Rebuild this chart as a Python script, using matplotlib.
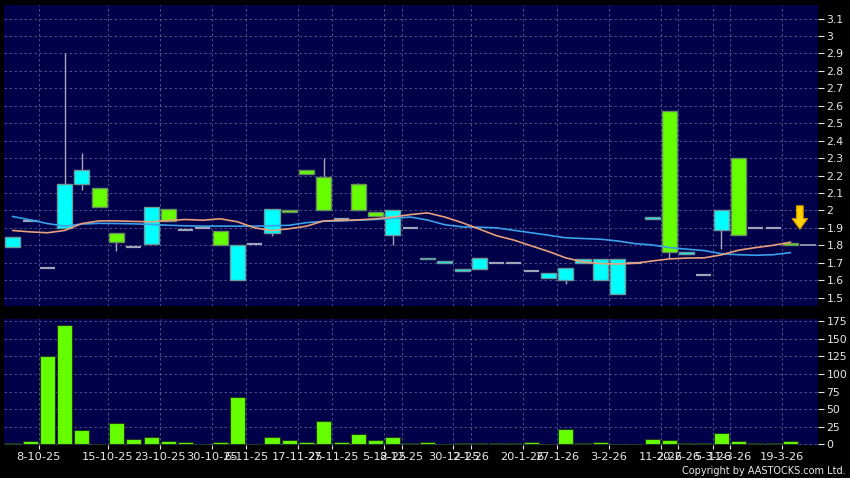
import numpy as np
import matplotlib
matplotlib.use('Agg')
import matplotlib.pyplot as plt

# daily candles (cyan = close above open, green = close below open)
opens = [1.79, 1.94, 1.67, 1.90, 2.15, 2.13, 1.87, 1.79, 1.81, 2.01,
         1.89, 1.90, 1.88, 1.60, 1.81, 1.87, 2.00, 2.23, 2.19, 1.95,
         2.15, 1.99, 1.86, 1.90, 1.72, 1.70, 1.655, 1.665, 1.70, 1.70,
         1.65, 1.615, 1.60, 1.70, 1.60, 1.52, 1.70, 1.95, 2.57, 1.75,
         1.63, 1.89, 2.30, 1.90, 1.90, 1.812]
highs = [1.85, 1.94, 1.67, 2.90, 2.33, 2.13, 1.87, 1.79, 2.02, 2.01,
         1.89, 1.90, 1.88, 1.80, 1.81, 2.01, 2.00, 2.23, 2.30, 1.95,
         2.16, 1.99, 2.00, 1.90, 1.73, 1.71, 1.665, 1.73, 1.70, 1.70,
         1.65, 1.64, 1.67, 1.72, 1.72, 1.72, 1.70, 1.96, 2.57, 1.76,
         1.63, 2.00, 2.30, 1.90, 1.90, 1.812]
lows = [1.79, 1.94, 1.67, 1.90, 2.12, 2.02, 1.77, 1.79, 1.81, 1.94,
        1.89, 1.90, 1.80, 1.60, 1.81, 1.855, 1.99, 2.21, 2.00, 1.95,
        2.00, 1.97, 1.80, 1.90, 1.72, 1.70, 1.655, 1.665, 1.70, 1.70,
        1.65, 1.615, 1.58, 1.70, 1.60, 1.52, 1.70, 1.95, 1.73, 1.75,
        1.63, 1.78, 1.86, 1.90, 1.90, 1.80]
closes = [1.85, 1.94, 1.67, 2.15, 2.23, 2.02, 1.82, 1.79, 2.02, 1.94,
          1.89, 1.90, 1.80, 1.80, 1.81, 2.01, 1.99, 2.21, 2.00, 1.95,
          2.00, 1.97, 2.00, 1.90, 1.73, 1.71, 1.665, 1.73, 1.70, 1.70,
          1.65, 1.64, 1.67, 1.72, 1.72, 1.72, 1.70, 1.96, 1.76, 1.76,
          1.63, 2.00, 1.86, 1.90, 1.90, 1.80]
volumes = [2, 5, 125, 169, 20, 0.5, 30, 8, 10, 5,
           4, 0.5, 4, 68, 0.8, 10, 6, 4, 33, 3,
           15, 6, 10, 2, 3.5, 0.5, 2, 2, 2, 2,
           4, 0.5, 22, 2, 4, 1, 1, 8, 6, 2,
           2, 16, 5, 2, 2, 5]
ma_short = [1.885, 1.877, 1.872, 1.885, 1.925, 1.94, 1.94, 1.937, 1.935, 1.942,
            1.948, 1.944, 1.952, 1.935, 1.90, 1.885, 1.895, 1.91, 1.94, 1.943,
            1.946, 1.952, 1.962, 1.976, 1.986, 1.962, 1.93, 1.893, 1.855, 1.83,
            1.797, 1.765, 1.728, 1.705, 1.695, 1.693, 1.697, 1.71, 1.722, 1.727,
            1.728, 1.745, 1.772, 1.787, 1.80, 1.818]
ma_long = [1.965, 1.946, 1.925, 1.91, 1.922, 1.926, 1.925, 1.923, 1.92, 1.915,
           1.912, 1.91, 1.91, 1.91, 1.91, 1.912, 1.915, 1.93, 1.938, 1.94,
           1.944, 1.948, 1.955, 1.962, 1.945, 1.918, 1.906, 1.904, 1.90, 1.886,
           1.872, 1.858, 1.843, 1.839, 1.835, 1.825, 1.81, 1.802, 1.787, 1.778,
           1.77, 1.752, 1.746, 1.743, 1.746, 1.758]
label_idx = [2, 6, 9, 12, 14, 17, 19, 22, 23, 26, 27, 30, 32, 35, 38, 39, 41, 42, 45]
date_labels = ['8-10-25', '15-10-25', '23-10-25', '30-10-25', '6-11-25', '17-11-25',
               '27-11-25', '5-12-25', '8-12-25', '30-12-25', '2-1-26', '20-1-26',
               '27-1-26', '3-2-26', '11-2-26', '20-2-26', '5-3-26', '11-3-26', '19-3-26']

navy = '#00004a'
grid_c = '#5c5c90'
up_c = '#00ffff'
down_c = '#66ff00'
txt_c = '#e8e8e8'
n = len(closes)
x = np.arange(n)
w = 0.87

fig = plt.figure(figsize=(8.5, 4.78), dpi=100, facecolor='black')
ax = fig.add_axes([4 / 850, 1 - 306 / 478, 814 / 850, 301 / 478], facecolor=navy)
axv = fig.add_axes([4 / 850, 1 - 445 / 478, 814 / 850, 126 / 478], facecolor=navy)

for a in (ax, axv):
  for s in a.spines.values():
    s.set_visible(False)
  a.set_xlim(-0.51, 46.6)
  for k in label_idx:
    a.axvline(k - 0.5, color=grid_c, lw=0.6, ls=(0, (3, 3)), zorder=0)
  a.yaxis.tick_right()
  a.tick_params(axis='y', colors=txt_c, labelsize=7.8, length=4, pad=2, width=0.8)
  a.grid(axis='y', color=grid_c, lw=0.6, ls=(0, (3, 3)), zorder=0)

# price panel
ax.vlines(x, lows, highs, color='#a8a8b8', lw=1, zorder=2)
for i in range(n):
  o, c = opens[i], closes[i]
  if abs(c - o) < 1e-9:
    ax.hlines(o, i - w / 2, i + w / 2, color='#a0a4b8', lw=1.6, zorder=3)
  else:
    col = up_c if c > o else down_c
    edge = '#6a9a9a' if c > o else '#6a8a60'
    ax.bar(i, abs(c - o), bottom=min(o, c), width=w, color=col,
           edgecolor=edge, linewidth=1, zorder=3)
ax.plot(x, ma_long, color='#3aa0e8', lw=1.2, zorder=4)
ax.plot(x, ma_short, color='#e8a07a', lw=1.2, zorder=4)
# last price marker and arrow
ax.hlines(closes[-1], n - 0.43, n + 0.5, color='#a0a4b8', lw=1.2, zorder=3)
tip = highs[-1] + 0.08
ax.annotate('', xy=(n - 0.45, tip), xytext=(n - 0.45, tip + 0.135),
            arrowprops=dict(arrowstyle='simple,head_length=0.55,head_width=0.8,tail_width=0.35',
                            mutation_scale=14, fc='#ffd200', ec='#d08a00', lw=0.8,
                            shrinkA=0, shrinkB=0), zorder=5)
ax.set_ylim(1.452, 3.178)
ax.set_yticks(np.round(np.arange(1.5, 3.15, 0.1), 1))
ax.set_yticklabels(['%g' % v for v in np.round(np.arange(1.5, 3.15, 0.1), 1)])
ax.set_xticks([])

# volume panel
axv.bar(x, volumes, width=w, color=down_c, edgecolor='#1e3a1e', linewidth=0.8, zorder=3)
axv.set_ylim(-0.8, 178)
axv.set_yticks(np.arange(0, 176, 25))
axv.set_xticks([k - 0.5 for k in label_idx])
axv.set_xticklabels(date_labels)
axv.tick_params(axis='x', colors=txt_c, labelsize=8.2, length=3, pad=2, width=0.8)

fig.text(846 / 850, 1 - 471 / 478, 'Copyright by AASTOCKS.com Ltd.', color=txt_c,
         fontsize=7, ha='right', va='center')

fig.savefig('out.png', dpi=100, facecolor='black')
